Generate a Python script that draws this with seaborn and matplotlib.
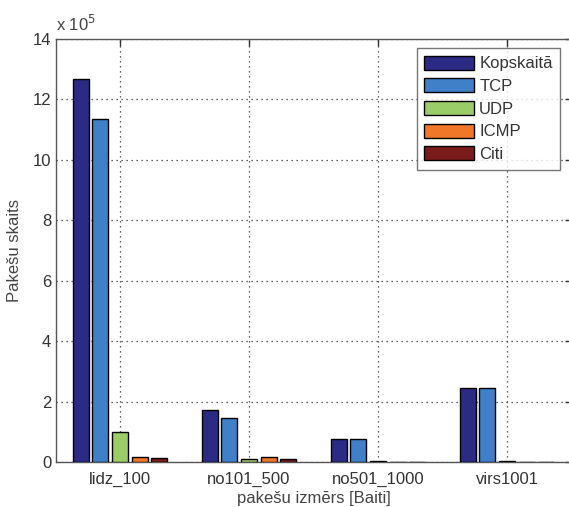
import numpy as np
import pandas as pd
import matplotlib
matplotlib.use("Agg")
import matplotlib.pyplot as plt
from matplotlib.ticker import FuncFormatter, MultipleLocator
import seaborn as sns

# Packet counts per size class, by protocol
categories = ["lidz_100", "no101_500", "no501_1000", "virs1001"]
protocols = ["Kopskaitā", "TCP", "UDP", "ICMP", "Citi"]
kopskaita = [1268000, 172000, 75000, 246000]
tcp = [1135000, 147000, 75000, 245000]
udp = [100000, 9000, 2500, 2500]
icmp = [15500, 16000, 0, 0]
citi = [14000, 10000, 0, 0]

colors = ["#2b2b85", "#3f80c9", "#9acd68", "#f07628", "#7a1c1c"]

series = [kopskaita, tcp, udp, icmp, citi]
df = pd.DataFrame({
    "kategorija": np.repeat([categories], len(protocols), axis=0).ravel(),
    "protokols": np.repeat(protocols, len(categories)),
    "skaits": np.concatenate(series),
})

sns.set_style("white")
plt.rcParams["font.family"] = ["Liberation Sans Narrow", "Liberation Sans", "DejaVu Sans"]

W, H = 569, 507
fig = plt.figure(figsize=(W / 100, H / 100), dpi=100)
left, right, top, bottom = 55.5, 571.5, 39, 462
ax = fig.add_axes([left / W, 1 - bottom / H, (right - left) / W, (bottom - top) / H])

sns.barplot(data=df, x="kategorija", y="skaits", hue="protokols",
            order=categories, hue_order=protocols, palette=colors,
            saturation=1, errorbar=None, width=0.765, gap=0.19,
            edgecolor="black", linewidth=1.0, ax=ax, zorder=3)

ax.set_xlim(-0.5, 3.5)
ax.set_ylim(0, 14e5)
ax.yaxis.set_major_locator(MultipleLocator(2e5))
ax.yaxis.set_major_formatter(FuncFormatter(lambda v, p: f"{v / 1e5:g}"))

ax.grid(True, which="major", axis="both", linestyle=(0, (1, 3)),
        color="#333333", linewidth=0.9, zorder=0)
ax.set_axisbelow(True)

for s in ax.spines.values():
    s.set_visible(True)
    s.set_color("#555555")
    s.set_linewidth(1.0)

ax.tick_params(axis="both", direction="in", length=5, width=1, color="#333333",
               top=True, right=True, labelsize=12, labelcolor="#333333")
ax.tick_params(axis="y", pad=3)
ax.tick_params(axis="x", pad=7)

ax.set_xlabel("pakešu izmērs [Baiti]", fontsize=12, color="#444444", labelpad=3)
ax.set_ylabel("Pakešu skaits", fontsize=12, color="#444444", labelpad=8)

ax.text(0.0, 1.012, r"x 10$^{5}$", transform=ax.transAxes, ha="left", va="bottom",
        fontsize=12, color="#444444")

leg = ax.legend(loc="upper right", bbox_to_anchor=(0.978, 0.978), frameon=True,
                fancybox=False, fontsize=12, handlelength=3.0, handleheight=0.9,
                handletextpad=0.3, labelspacing=0.42, borderpad=0.45,
                borderaxespad=0.0)
leg.get_frame().set_edgecolor("#555555")
leg.get_frame().set_linewidth(1.0)
for t in leg.get_texts():
    t.set_color("#333333")
for hnd in leg.legend_handles:
    hnd.set_edgecolor("black")
    hnd.set_linewidth(1.0)

fig.savefig("out.png", dpi=100, facecolor="white")
